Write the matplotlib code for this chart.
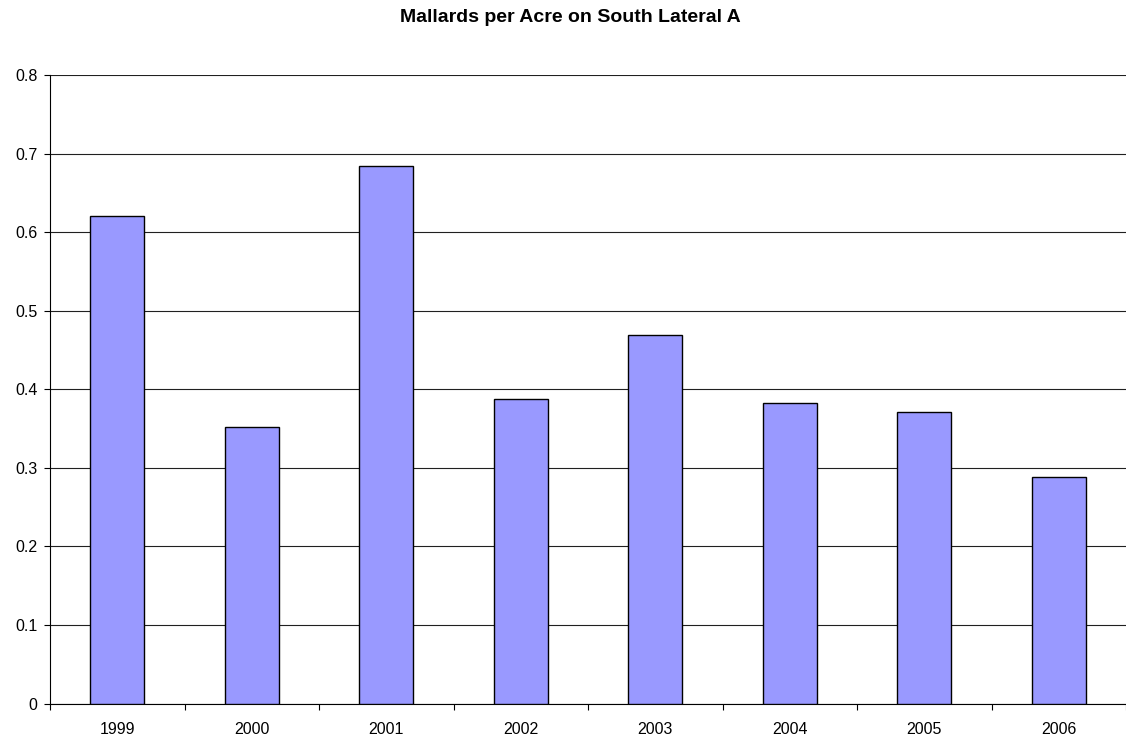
import numpy as np
import matplotlib
matplotlib.use("Agg")
import matplotlib.pyplot as plt
from matplotlib.ticker import FixedLocator, FuncFormatter

years = ["1999", "2000", "2001", "2002", "2003", "2004", "2005", "2006"]
mallards_per_acre = [0.62, 0.352, 0.684, 0.388, 0.469, 0.382, 0.371, 0.288]
y_ticks = [0, 0.1, 0.2, 0.3, 0.4, 0.5, 0.6, 0.7, 0.8]

plt.rcParams['font.family'] = ['Liberation Sans', 'DejaVu Sans']

fig = plt.figure(figsize=(11.26, 7.4), dpi=100)
ax = fig.add_axes([50 / 1126, 36.5 / 740, 1 - 50 / 1126, 628.5 / 740])

x = np.arange(len(years))
ax.bar(x, mallards_per_acre, width=0.4, color='#9999FF',
       edgecolor='black', linewidth=1.0, zorder=3)

ax.set_xlim(-0.5, len(years) - 0.5)
ax.set_ylim(0, 0.8)

# horizontal gridlines at each 0.1
ax.set_yticks(y_ticks)
ax.yaxis.set_major_formatter(FuncFormatter(lambda v, p: "0" if v == 0 else f"{v:.1f}"))
ax.grid(axis='y', color='#202020', linewidth=0.8, zorder=0)

# year labels centred, tick marks between categories
ax.set_xticks(x)
ax.set_xticklabels(years)
ax.xaxis.set_minor_locator(FixedLocator(np.arange(-0.5, len(years), 1.0)))
ax.tick_params(axis='x', which='major', length=0, pad=13, labelsize=11.5)
ax.tick_params(axis='x', which='minor', length=4, width=0.8, direction='out')
ax.tick_params(axis='y', length=4.5, width=0.8, direction='out', pad=4.5, labelsize=11.5)

ax.spines['right'].set_visible(False)
ax.spines['top'].set_visible(False)
ax.spines['left'].set_linewidth(0.8)
ax.spines['bottom'].set_linewidth(0.8)

fig.text(570 / 1126, 1 - 22 / 740, "Mallards per Acre on South Lateral A",
         ha='center', va='baseline', fontsize=14, fontweight='bold')

fig.savefig("out.png", dpi=100)
